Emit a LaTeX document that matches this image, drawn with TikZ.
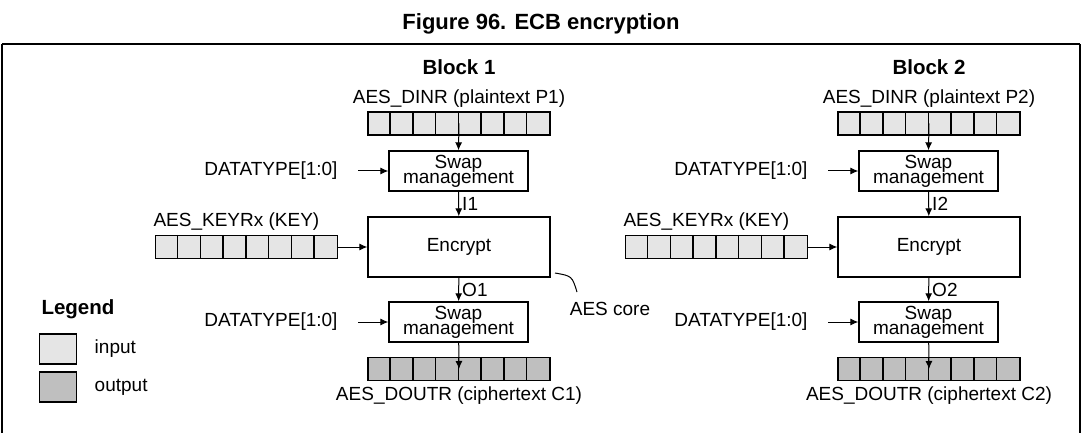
\documentclass[tikz,border=0pt]{standalone}
\usepackage{fontspec}
\setmainfont{Liberation Sans}
\usepackage{tikz}
\usetikzlibrary{arrows.meta,positioning}

\tikzset{
  box/.style={draw, line width=1.4pt, inner sep=0pt, align=center},
  reg/.style={box, minimum width=182pt, minimum height=23pt},
  arr/.style={-{Latex[length=8pt,width=7pt]}, line width=1pt},
  lbl/.style={font=\fontsize{19}{20}\selectfont},
}

\begin{document}
\begin{tikzpicture}[x=1pt, y=-1pt, lbl]
  \useasboundingbox (0,0) rectangle (1082,433);
  \node[font=\bfseries\fontsize{22}{23}\selectfont] (title) at (541,24) {Figure 96. ECB encryption};
  \draw[line width=1.6pt] (2,44) -- (1080,44) (2,44) -- (2,433) (1080,44) -- (1080,433);

  % legend
  \node[font=\bfseries\fontsize{20.5}{21}\selectfont, anchor=west] (legend) at (38,309) {Legend};
  \node[box, fill=gray!20, minimum width=37pt, minimum height=30pt] (inbox) at (58,349) {};
  \node[box, fill=gray!50, minimum width=37pt, minimum height=30pt] (outbox) at (58,387) {};
  \node[right=14pt of inbox] (inlbl) {input};
  \node[right=14pt of outbox] (outlbl) {output};

  \foreach \b/\dx in {1/0, 2/470} {
    \begin{scope}[xshift=\dx]
      \node[font=\bfseries\fontsize{20.5}{21}\selectfont] (head\b) at (459,67) {Block \b};
      \node (dinl\b) at (459,99) {AES\_DINR (plaintext P\b)};
      \node[reg, fill=gray!20] (din\b) at (459,123.5) {};
      \node[box, minimum width=139pt, minimum height=40pt] (swin\b) at (458.5,171)
        {\raisebox{4pt}{\shortstack{Swap\\[-4pt]management}}};
      \node[anchor=east] (dtin\b) at (341,171) {DATATYPE[1:0]};
      \node[box, minimum width=182pt, minimum height=60pt] (enc\b) at (459,247) {Encrypt};
      \node[anchor=south west] (keyl\b) at (150,234) {AES\_KEYRx (KEY)};
      \node[reg, fill=gray!20] (key\b) at (246.5,247) {};
      \node[box, minimum width=139pt, minimum height=40pt] (swout\b) at (458.5,322)
        {\raisebox{4pt}{\shortstack{Swap\\[-4pt]management}}};
      \node[anchor=east] (dtout\b) at (341,322) {DATATYPE[1:0]};
      \node[reg, fill=gray!50] (dout\b) at (459,369) {};
      \node (doutl\b) at (459,396) {AES\_DOUTR (ciphertext C\b)};
      \foreach \i in {1,...,7} {
        \draw[line width=1.4pt] ([xshift=\i*22.75pt]din\b.north west) -- ([xshift=\i*22.75pt]din\b.south west);
        \draw[line width=1.4pt] ([xshift=\i*22.75pt]key\b.north west) -- ([xshift=\i*22.75pt]key\b.south west);
        \draw[line width=1.4pt] ([xshift=\i*22.75pt]dout\b.north west) -- ([xshift=\i*22.75pt]dout\b.south west);
      }
      \draw[arr] (din\b.center) -- (swin\b.north);
      \draw[arr] (swin\b) -- node[right, inner sep=3pt] {I\b} (enc\b);
      \draw[arr] (enc\b) -- node[right, inner sep=3pt] {O\b} (swout\b);
      \draw[arr] (swout\b) -- (dout\b.center);
      \draw[arr] ([xshift=17pt]dtin\b.east) -- (swin\b);
      \draw[arr] ([xshift=17pt]dtout\b.east) -- (swout\b);
      \draw[arr] (key\b) -- (enc\b);
    \end{scope}
  }

  % core note
  \node (corelbl) at (610,309) {AES core};
  \coordinate (c0) at (555,273);
  \coordinate (c1) at (577,292);
  \draw[line width=1pt] (c0) .. controls (572,276) .. (c1);
\end{tikzpicture}
\end{document}
